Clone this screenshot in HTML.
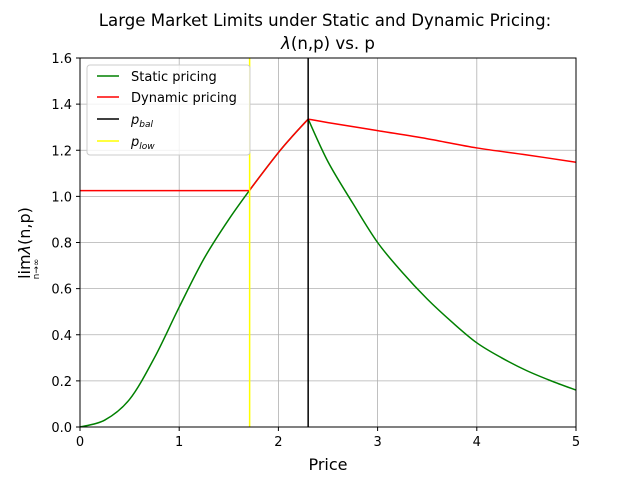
<!DOCTYPE html>
<html><head><meta charset="utf-8"><style>
body{margin:0;background:#fff;font-family:"Liberation Sans","DejaVu Sans",sans-serif}
svg text{font-family:"DejaVu Sans","Liberation Sans",sans-serif}
</style></head><body>
<svg id="c" width="640" height="480" viewBox="0 0 640 480" xmlns="http://www.w3.org/2000/svg">
<rect width="640" height="480" fill="#fff"/>
<text x="325" y="26" font-size="16.6" text-anchor="middle">Large Market Limits under Static and Dynamic Pricing:</text>
<text x="328" y="49" font-size="16.6" text-anchor="middle"><tspan font-style="italic">λ</tspan>(n,p) vs. p</text>
<g id="grid"></g>
<g id="series"></g>
<rect x="80" y="58" width="496" height="369" fill="none" stroke="#000" stroke-width="1"/>
<g id="ticks"></g>
<text x="328" y="470" font-size="16" text-anchor="middle">Price</text>
<g transform="translate(30,243) rotate(-90)">
<text x="0" y="0" font-size="16" text-anchor="middle">lim<tspan font-style="italic">λ</tspan>(n,p)</text>
<text x="-26" y="9" font-size="9" text-anchor="middle">n→∞</text>
</g>
<g>
<rect x="87" y="65" width="163" height="90" fill="#fff" fill-opacity="0.8" stroke="#ccc" rx="3"/>
<line x1="97" y1="76" x2="119" y2="76" stroke="green" stroke-width="1.5"/><text x="131" y="81" font-size="13">Static pricing</text>
<line x1="97" y1="97" x2="119" y2="97" stroke="red" stroke-width="1.5"/><text x="131" y="102" font-size="13">Dynamic pricing</text>
<line x1="97" y1="119" x2="119" y2="119" stroke="#000" stroke-width="1.5"/><text x="131" y="124" font-size="13"><tspan font-style="italic">p</tspan><tspan font-size="9" dy="3" font-style="italic">bal</tspan></text>
<line x1="97" y1="141" x2="119" y2="141" stroke="yellow" stroke-width="1.5"/><text x="131" y="146" font-size="13"><tspan font-style="italic">p</tspan><tspan font-size="9" dy="3" font-style="italic">low</tspan></text>
</g>
</svg>
<script>
const xTicks=[0,1,2,3,4,5];
const yTicks=[0.0,0.2,0.4,0.6,0.8,1.0,1.2,1.4,1.6];
const staticP=[0,0.25,0.5,0.75,1,1.25,1.5,1.75,2,2.15,2.3,2.5,2.75,3,3.25,3.5,3.75,4,4.25,4.5,4.75,5];
const staticV=[0,0.03,0.12,0.3,0.52,0.73,0.9,1.05,1.19,1.265,1.335,1.15,0.97,0.8,0.67,0.555,0.455,0.365,0.3,0.245,0.2,0.16];
const dynP=[0,1.71,1.75,2,2.15,2.3,2.5,3,3.5,4,4.5,5];
const dynV=[1.025,1.025,1.05,1.19,1.265,1.335,1.32,1.285,1.25,1.21,1.18,1.148];
const pBal=2.3, pLow=1.71;
const X=v=>80+v*(496/5), Y=v=>427-v*(369/1.6);
const NS="http://www.w3.org/2000/svg";
function mk(tag,attrs,parent){const e=document.createElementNS(NS,tag);for(const k in attrs)e.setAttribute(k,attrs[k]);document.getElementById(parent).appendChild(e);return e;}
function smooth(ps,vs,corners){
 const pts=ps.map((p,i)=>[X(p),Y(vs[i])]);
 let d='M'+pts[0][0]+','+pts[0][1];
 for(let i=0;i<pts.length-1;i++){
  const p0=(i===0||corners.includes(i))?pts[i]:pts[i-1];
  const p1=pts[i],p2=pts[i+1];
  const p3=(i+2>=pts.length||corners.includes(i+1))?pts[i+1]:pts[i+2];
  const c1=[p1[0]+(p2[0]-p0[0])/6,p1[1]+(p2[1]-p0[1])/6];
  const c2=[p2[0]-(p3[0]-p1[0])/6,p2[1]-(p3[1]-p1[1])/6];
  d+=` C${c1[0]},${c1[1]} ${c2[0]},${c2[1]} ${p2[0]},${p2[1]}`;
 }
 return d;
}
xTicks.forEach(t=>{
 const g=mk('line',{x1:X(t),x2:X(t),y1:58,y2:427,stroke:'#b0b0b0','stroke-width':0.8},'grid');
 
 
 mk('line',{x1:X(t),x2:X(t),y1:427,y2:431,stroke:'#000'},'ticks');
 const l=mk('text',{x:X(t),y:446,'font-size':13,'text-anchor':'middle'},'ticks');l.textContent=t;
 
 
});
yTicks.forEach(t=>{
 const g=mk('line',{x1:80,x2:576,y1:Y(t),y2:Y(t),stroke:'#b0b0b0','stroke-width':0.8},'grid');
 
 
 mk('line',{x1:76,x2:80,y1:Y(t),y2:Y(t),stroke:'#000'},'ticks');
 const l=mk('text',{x:72,y:Y(t)+5,'font-size':13,'text-anchor':'end'},'ticks');l.textContent=t.toFixed(1);
 
 
});
const sPeak=staticP.indexOf(pBal);
const s=mk('path',{d:smooth(staticP,staticV,[sPeak]),fill:'none',stroke:'green','stroke-width':1.5},'series');


const dPeak=dynP.indexOf(pBal);
const d=mk('path',{d:smooth(dynP,dynV,[1,dPeak]),fill:'none',stroke:'red','stroke-width':1.5},'series');


const b=mk('line',{x1:X(pBal),x2:X(pBal),y1:58,y2:427,stroke:'#000','stroke-width':1.5},'series');


const lo=mk('line',{x1:X(pLow),x2:X(pLow),y1:58,y2:427,stroke:'yellow','stroke-width':1.5},'series');


</script>
</body></html>
